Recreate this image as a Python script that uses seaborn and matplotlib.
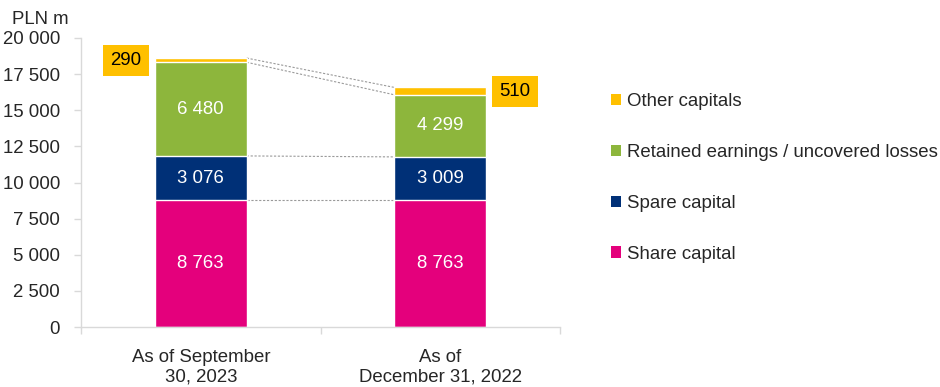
import matplotlib
matplotlib.use("Agg")
import matplotlib.pyplot as plt
import seaborn as sns
import numpy as np
import pandas as pd
from matplotlib.patches import Patch
from matplotlib.ticker import FixedLocator

# Equity structure, PLN m
periods = ["As of September\n30, 2023", "As of\nDecember 31, 2022"]
share_capital = [8763, 8763]
spare_capital = [3076, 3009]
retained_earnings = [6480, 4299]
other_capitals = [290, 510]

components = ["Share capital", "Spare capital",
              "Retained earnings / uncovered losses", "Other capitals"]
series = [share_capital, spare_capital, retained_earnings, other_capitals]
colors = ["#E4007C", "#003077", "#8DB63C", "#FFC000"]

y_ticks = list(range(0, 20001, 2500))

sns.set_theme(style="white")
plt.rcParams["font.family"] = ["Liberation Sans", "DejaVu Sans"]
FS = 13.4

fig = plt.figure(figsize=(9.4, 3.87), dpi=100)
W, H = 940, 387
ax = fig.add_axes([81 / W, 1 - 327 / H, (560 - 81) / W, (327 - 38) / H])

values = np.array(series, dtype=float)
tops = np.cumsum(values, axis=0)
bottoms = tops - values

bar_w = 0.384
# Stack by overlaying cumulative totals, tallest first
for i in range(len(series) - 1, -1, -1):
    df = pd.DataFrame({"period": periods, "value": tops[i]})
    sns.barplot(data=df, x="period", y="value", color=colors[i],
                width=bar_w, saturation=1, ax=ax, zorder=2)

# Values inside the segments
for i in range(3):
    for j in range(len(periods)):
        mid = bottoms[i][j] + values[i][j] / 2
        ax.text(j, mid, f"{int(values[i][j]):,}".replace(",", " "),
                ha="center", va="center", color="white", fontsize=FS, zorder=4)

# Labels for the thin top segment, in boxes beside the bars
box = dict(boxstyle="square,pad=0.38", fc="#FFC000", ec="none")
for j, (ha, side) in enumerate([("right", -1), ("left", 1)]):
    mid = bottoms[3][j] + values[3][j] / 2
    ax.annotate(f"{int(values[3][j]):,}".replace(",", " "),
                xy=(j + side * bar_w / 2, mid),
                xytext=(side * 9.5, 0), textcoords="offset points",
                ha=ha, va="center", fontsize=FS, color="black",
                bbox=box, zorder=5, annotation_clip=False)

# Dashed connectors between segment boundaries
for k in [0, 1, 2, 3]:
    ax.plot([bar_w / 2, 1 - bar_w / 2], [tops[k][0], tops[k][1]],
            ls=(0, (2, 1.5)), lw=0.8, color="#9a9a9a", zorder=1)

ax.set_xlim(-0.5, 1.5)
ax.set_ylim(0, 20000)
ax.set_yticks(y_ticks)
ax.set_yticklabels([f"{t:,}".replace(",", " ") for t in y_ticks], fontsize=FS)
ax.set_xlabel("")
ax.set_ylabel("")
ax.tick_params(axis="x", length=0, labelsize=FS, pad=16)
ax.tick_params(axis="y", length=5, width=1, color="#d9d9d9", pad=10,
               left=True)
ax.xaxis.set_minor_locator(FixedLocator([-0.5, 0.5, 1.5]))
ax.tick_params(axis="x", which="minor", length=5, width=1, color="#d9d9d9",
               bottom=True)
for lab in ax.get_xticklabels():
    lab.set_linespacing(1.2)

for s in ["top", "right"]:
    ax.spines[s].set_visible(False)
for s in ["left", "bottom"]:
    ax.spines[s].set_color("#d9d9d9")
    ax.spines[s].set_linewidth(1)

fig.text(12 / W, 1 - 20 / H, "PLN m", fontsize=FS, ha="left", va="center")

handles = [Patch(facecolor=colors[i], edgecolor="none", label=components[i])
           for i in range(3, -1, -1)]
fig.legend(handles=handles, loc="upper left",
           bbox_to_anchor=(611 / W, 1 - 93 / H), frameon=False,
           fontsize=FS, handlelength=0.55, handleheight=0.55,
           handletextpad=0.3, labelspacing=1.82, borderaxespad=0,
           borderpad=0)

fig.savefig("out.png", dpi=100)
